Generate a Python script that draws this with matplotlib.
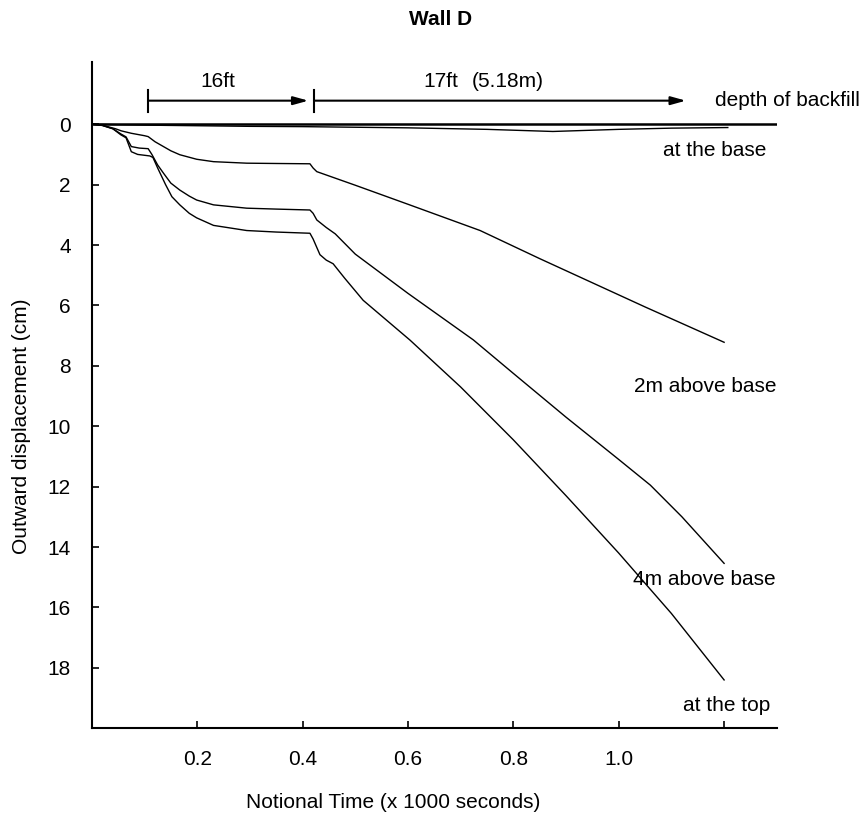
import matplotlib.pyplot as plt

plt.rcParams['font.family'] = ['Liberation Sans', 'DejaVu Sans']

# Wall D outward displacement readings (time in 1000 s, displacement in cm)
base_t = [0, 0.1, 0.2, 0.3, 0.4, 0.6, 0.75, 0.875, 1.0, 1.1, 1.207]
base_d = [0, 0.03, 0.05, 0.07, 0.08, 0.12, 0.17, 0.24, 0.17, 0.13, 0.11]

m2_t = [0, 0.02, 0.03, 0.045, 0.056, 0.075, 0.1, 0.107, 0.12, 0.136, 0.15, 0.167,
        0.199, 0.231, 0.294, 0.35, 0.414, 0.42, 0.427, 0.5, 0.6, 0.737, 0.85,
        0.95, 1.05, 1.2]
m2_d = [0, 0.03, 0.08, 0.15, 0.22, 0.30, 0.38, 0.41, 0.58, 0.74, 0.88, 1.01,
        1.16, 1.24, 1.29, 1.30, 1.31, 1.45, 1.57, 2.02, 2.65, 3.52, 4.45,
        5.25, 6.05, 7.22]

m4_t = [0, 0.02, 0.04, 0.055, 0.065, 0.075, 0.09, 0.107, 0.114, 0.125, 0.136,
        0.15, 0.167, 0.185, 0.199, 0.231, 0.294, 0.35, 0.414, 0.42, 0.427,
        0.445, 0.462, 0.5, 0.6, 0.724, 0.8, 0.9, 1.0, 1.06, 1.12, 1.2]
m4_d = [0, 0.04, 0.15, 0.32, 0.42, 0.74, 0.79, 0.81, 1.0, 1.35, 1.62,
        1.95, 2.18, 2.38, 2.51, 2.67, 2.78, 2.81, 2.84, 2.95, 3.17,
        3.42, 3.63, 4.3, 5.6, 7.14, 8.25, 9.7, 11.1, 11.95, 13.0, 14.54]

top_t = [0, 0.02, 0.04, 0.055, 0.065, 0.075, 0.087, 0.11, 0.116, 0.125, 0.14,
         0.152, 0.167, 0.185, 0.199, 0.231, 0.294, 0.35, 0.414, 0.42, 0.433,
         0.445, 0.458, 0.48, 0.515, 0.604, 0.7, 0.8, 0.9, 1.0, 1.1, 1.2]
top_d = [0, 0.04, 0.15, 0.35, 0.45, 0.91, 1.0, 1.05, 1.1, 1.45, 2.0,
         2.4, 2.67, 2.95, 3.1, 3.35, 3.52, 3.57, 3.61, 3.8, 4.32,
         4.5, 4.62, 5.1, 5.83, 7.15, 8.7, 10.45, 12.3, 14.2, 16.2, 18.4]

xticks = [0.2, 0.4, 0.6, 0.8, 1.0, 1.2]
xtick_labels = ['0.2', '0.4', '0.6', '0.8', '1.0', '']
yticks = [0, 2, 4, 6, 8, 10, 12, 14, 16, 18]

fs = 15

fig = plt.figure(figsize=(8.66, 8.18), dpi=100)
ax = fig.add_axes([0.106, 0.1097, 0.791, 0.8145])

ax.axhline(0, color='black', lw=1.8)
for t, d in [(base_t, base_d), (m2_t, m2_d), (m4_t, m4_d), (top_t, top_d)]:
    ax.plot(t, d, color='black', lw=1.0)

ax.set_xlim(0, 1.30)
ax.set_ylim(20.0, -2.06)

ax.spines['top'].set_visible(False)
ax.spines['right'].set_visible(False)
ax.spines['left'].set_linewidth(1.5)
ax.spines['bottom'].set_linewidth(1.5)

ax.set_xticks(xticks, xtick_labels)
ax.set_yticks(yticks)
ax.tick_params(axis='both', direction='in', length=5, width=1.2, labelsize=fs)
ax.tick_params(axis='x', pad=16)
ax.tick_params(axis='y', pad=15)

ax.set_xlabel('Notional Time (x 1000 seconds)', fontsize=fs, va='center')
ax.xaxis.set_label_coords(0.44, -0.111)
ax.set_ylabel('Outward displacement (cm)', fontsize=fs, va='center')
ax.yaxis.set_label_coords(-0.102, 0.454)

fig.text(441 / 866, 1 - 19.5 / 818, 'Wall D', fontsize=fs, fontweight='bold',
         ha='center', va='center')

# backfill depth markers
arrow_y = -0.78
for x0, x1 in [(0.107, 0.411), (0.4216, 1.1275)]:
    ax.plot([x0, x0], [-1.14, -0.41], color='black', lw=1.5)
    ax.annotate('', xy=(x1, arrow_y), xytext=(x0, arrow_y),
                arrowprops=dict(arrowstyle='-|>,head_length=0.9,head_width=0.25',
                                color='black', lw=1.5, shrinkA=0, shrinkB=0))
ax.text(0.2397, -1.40, '16ft', fontsize=fs, ha='center', va='center')
ax.text(0.6617, -1.40, '17ft', fontsize=fs, ha='center', va='center')
ax.text(0.789, -1.40, '(5.18m)', fontsize=fs, ha='center', va='center')
ax.text(1.183, -0.8, 'depth of backfill', fontsize=fs, ha='left', va='center')

# curve labels
ax.text(1.183, 0.87, 'at the base', fontsize=fs, ha='center', va='center')
ax.text(1.165, 8.67, '2m above base', fontsize=fs, ha='center', va='center')
ax.text(1.162, 15.09, '4m above base', fontsize=fs, ha='center', va='center')
ax.text(1.205, 19.23, 'at the top', fontsize=fs, ha='center', va='center')

fig.savefig('out.png', dpi=100)
